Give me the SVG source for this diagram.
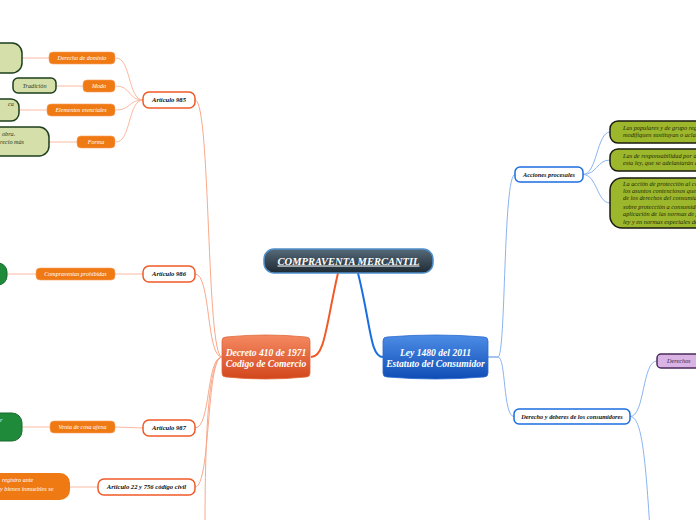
<svg xmlns="http://www.w3.org/2000/svg" width="696" height="520" viewBox="0 0 696 520">
<defs>
<linearGradient id="gCentral" x1="0" y1="0" x2="0" y2="1"><stop offset="0" stop-color="#566a78"/><stop offset="1" stop-color="#1d2a33"/></linearGradient>
<linearGradient id="gDecreto" x1="0" y1="0" x2="0" y2="1"><stop offset="0" stop-color="#f58a62"/><stop offset="1" stop-color="#d2461c"/></linearGradient>
<linearGradient id="gLey" x1="0" y1="0" x2="0" y2="1"><stop offset="0" stop-color="#4d8de6"/><stop offset="1" stop-color="#0f4db5"/></linearGradient>
</defs>
<style>
text{font-family:"Liberation Serif","Times New Roman",serif;font-style:italic}
.art{fill:#fff;stroke:#f05a28;stroke-width:1.5}
.artT{font-size:6.6px;font-weight:bold;fill:#111;text-anchor:middle}
.och{fill:#ef7a14;stroke:#f6a060;stroke-width:0.6}
.ochT{font-size:6px;fill:#fff;text-anchor:middle}
.lg{fill:#d5dfa9;stroke:#1d3f1d;stroke-width:1.5}
.lgT{font-size:6.2px;fill:#2a3a1a}
.dg{fill:#1f8a3a;stroke:#176a2c;stroke-width:1}
.blueN{fill:#fff;stroke:#1a6ee0;stroke-width:1.5}
.blueT{font-size:6.3px;font-weight:bold;fill:#111;text-anchor:middle}
.olive{fill:#9db72c;stroke:#1a1a10;stroke-width:1.5}
.oliveT{font-size:6.3px;fill:#1f2a08}
.lo{fill:none;stroke:#f9a98b;stroke-width:1}
.lo2{fill:none;stroke:#fbb9a2;stroke-width:1}
.lb{fill:none;stroke:#8ab4f0;stroke-width:1}
.mainT{font-size:9.6px;font-weight:bold;fill:#fff;text-anchor:middle}
</style>
<g id="connectors">
<path d="M338,273 C326,325 325,357 311,357" fill="none" stroke="#f05a28" stroke-width="2"/>
<path d="M358,273 C371,325 370,357 383,357" fill="none" stroke="#1a6ee0" stroke-width="2"/>
<path class="lo" d="M222,357 C206,357 211,100 195,100"/>
<path class="lo" d="M222,357 C206,357 211,274 195,274"/>
<path class="lo" d="M222,357 C206,357 211,428 195,428"/>
<path class="lo" d="M222,357 C206,357 211,487 195,487"/>
<path class="lo" d="M222,357 C206,357 205,470 205,530"/>
<path class="lo2" d="M143,100 C128,100 131,58 116,58"/>
<path class="lo2" d="M143,100 C128,100 131,86 116,86"/>
<path class="lo2" d="M143,100 C128,100 131,110 116,110"/>
<path class="lo2" d="M143,100 C128,100 131,142 116,142"/>
<path class="lo2" d="M49,58 L22,58"/>
<path class="lo2" d="M83,86 L56,86"/>
<path class="lo2" d="M47,110 L19,110"/>
<path class="lo2" d="M77,142 L49,142"/>
<path class="lo2" d="M143,274 L115,274"/>
<path class="lo2" d="M36,274 L7,274"/>
<path class="lo2" d="M143,428 L115,427"/>
<path class="lo2" d="M50,427 L22,427"/>
<path class="lo2" d="M98,487 L70,487"/>
<path d="M488,357 L498,357" fill="none" stroke="#4a88e0" stroke-width="1"/>
<path class="lb" d="M498,357 C506,357 503,174.5 515,174.5"/>
<path class="lb" d="M498,357 C506,357 503,416.5 514,416.5"/>
<path class="lb" d="M583,174.5 C597,174.5 597,132 610,132"/>
<path class="lb" d="M583,174.5 C597,174.5 597,160 610,160"/>
<path class="lb" d="M583,174.5 C597,174.5 597,203 610,203"/>
<path class="lb" d="M630,416.5 C645,416.5 642,361 657,361"/>
<path class="lb" d="M630,416.5 C641,416.5 645,450 650,530"/>
</g>
<g id="central">
<rect x="264" y="249" width="169" height="24" rx="10" fill="url(#gCentral)" stroke="#4f8fca" stroke-width="1.5"/>
<text x="348.5" y="264.5" font-size="10.5" font-weight="bold" fill="#fff" text-anchor="middle" text-decoration="underline">COMPRAVENTA MERCANTIL</text>
</g>
<g id="decreto">
<path d="M222,341 Q222,337 226,337 Q266,333 306,337 Q310,337 310,341 L310,373 Q310,377 306,377 Q266,381 226,377 Q222,377 222,373 Z" fill="url(#gDecreto)" stroke="#e0683a" stroke-width="0.8"/>
<text class="mainT" x="266" y="355.5">Decreto 410 de 1971</text>
<text class="mainT" x="266" y="367">Codigo de Comercio</text>
</g>
<g id="ley">
<path d="M383,341 Q383,337 387,337 Q435.5,333 484,337 Q488,337 488,341 L488,373 Q488,377 484,377 Q435.5,381 387,377 Q383,377 383,373 Z" fill="url(#gLey)" stroke="#2a6ad0" stroke-width="0.8"/>
<text class="mainT" x="435.5" y="355.5">Ley 1480 del 2011</text>
<text class="mainT" x="435.5" y="367">Estatuto del Consumidor</text>
</g>
<g id="art985"><rect class="art" x="143" y="92" width="52" height="16" rx="6"/><text class="artT" x="169" y="102.3">Articulo 985</text></g>
<g id="art986"><rect class="art" x="143" y="266" width="52" height="16" rx="6"/><text class="artT" x="169" y="276.3">Articulo 986</text></g>
<g id="art987"><rect class="art" x="143" y="420" width="52" height="16" rx="6"/><text class="artT" x="169" y="430.3">Articulo 987</text></g>
<g id="art22"><rect class="art" x="98" y="479" width="97" height="16" rx="6"/><text class="artT" x="146.5" y="489.3">Articulo 22 y 756 código civil</text></g>
<g id="derechoDominio"><rect class="och" x="49" y="52" width="66" height="12" rx="4"/><text class="ochT" x="82" y="60.1">Derecho de dominio</text></g>
<g id="modo"><rect class="och" x="83" y="80" width="32" height="12" rx="4"/><text class="ochT" x="99" y="88.1">Modo</text></g>
<g id="elementos"><rect class="och" x="47" y="104" width="68" height="12" rx="4"/><text class="ochT" x="81" y="112.1">Elementos esenciales</text></g>
<g id="forma"><rect class="och" x="77" y="136" width="38" height="12" rx="4"/><text class="ochT" x="96" y="144.1">Forma</text></g>
<g id="compraventas"><rect class="och" x="36" y="268" width="79" height="12" rx="4"/><text class="ochT" x="75.5" y="276.1">Compraventas prohibidas</text></g>
<g id="venta"><rect class="och" x="50" y="421" width="65" height="12" rx="4"/><text class="ochT" x="82.5" y="429.1">Venta de cosa ajena</text></g>
<g id="dominioDetalle"><rect class="lg" x="-20" y="43" width="42" height="30" rx="10"/></g>
<g id="tradicion"><rect class="lg" x="13" y="78" width="43" height="15" rx="5"/><text class="lgT" x="34.5" y="88.2" text-anchor="middle">Tradición</text></g>
<g id="elementosDetalle"><rect class="lg" x="-20" y="99" width="39" height="22" rx="8"/><text class="lgT" x="8" y="106">ca</text></g>
<g id="formaDetalle"><rect class="lg" x="-20" y="127" width="69" height="29" rx="10"/><text class="lgT" x="2" y="136.2">obra.</text><text class="lgT" x="0" y="144.2">recio más</text></g>
<g id="prohibidasDetalle"><rect class="dg" x="-20" y="263" width="27" height="22" rx="9"/></g>
<g id="ajenaDetalle"><rect class="dg" x="-20" y="413" width="42" height="28" rx="10"/><text x="0" y="422" font-size="6.2" fill="#fff">r</text></g>
<g id="registroDetalle"><rect x="-20" y="473" width="90" height="27" rx="10" fill="#ef7a14"/><text x="2" y="481.5" font-size="6.2" fill="#fff">registro ante</text><text x="0" y="490.5" font-size="6.2" fill="#fff">y bienes inmuebles se</text></g>
<g id="acciones"><rect class="blueN" x="515" y="167" width="68" height="15" rx="5"/><text class="blueT" x="549" y="176.7">Acciones procesales</text></g>
<g id="populares"><rect class="olive" x="610" y="121" width="110" height="22" rx="8"/><text class="oliveT" x="623" y="130">Las populares y de grupo reguladas</text><text class="oliveT" x="623" y="137">modifiquen sustituyan o aclaren</text></g>
<g id="responsabilidad"><rect class="olive" x="610" y="149" width="110" height="22" rx="8"/><text class="oliveT" x="623" y="157.5">Las de responsabilidad por daños</text><text class="oliveT" x="623" y="164.5">esta ley, que se adelantarán ante</text></g>
<g id="proteccion"><rect class="olive" x="610" y="178" width="110" height="50" rx="12"/>
<text class="oliveT" x="623" y="185.5">La acción de protección al consumidor</text>
<text class="oliveT" x="623" y="193.2">los asuntos contenciosos que tengan</text>
<text class="oliveT" x="623" y="200.4">de los derechos del consumidor</text>
<text class="oliveT" x="623" y="209">sobre protección a consumidores</text>
<text class="oliveT" x="623" y="216.3">aplicación de las normas de protección</text>
<text class="oliveT" x="623" y="224">ley y en normas especiales de</text></g>
<g id="derechoDeberes"><rect class="blueN" x="514" y="409" width="116" height="15" rx="5"/><text class="blueT" x="572" y="418.7">Derecho y deberes de los consumidores</text></g>
<g id="derechos"><rect x="657" y="354" width="60" height="14" rx="4" fill="#d9b3e3" stroke="#4b2a5c" stroke-width="1.5"/><text x="667" y="363.2" font-size="6.2" fill="#3a2048">Derechos</text></g>
</svg>
